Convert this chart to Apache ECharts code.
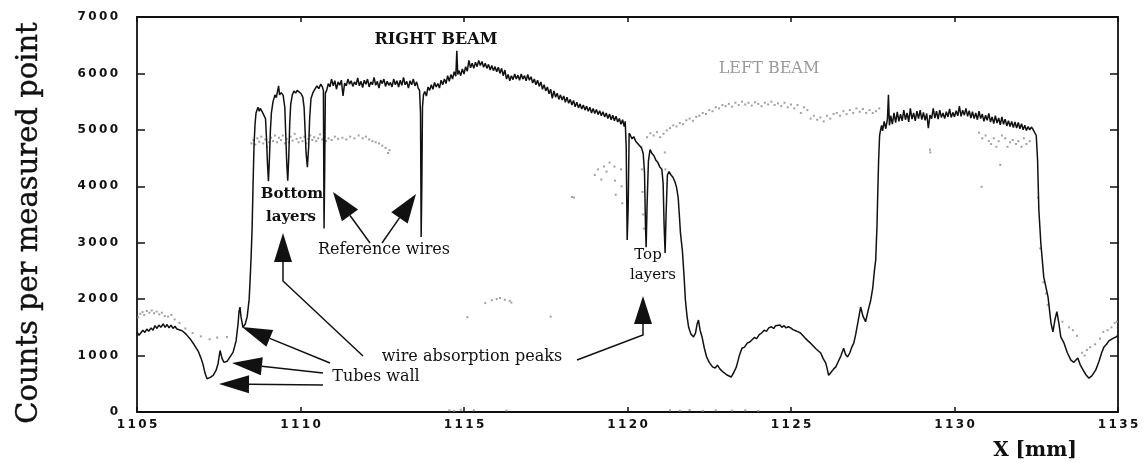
<!DOCTYPE html>
<html>
<head>
<meta charset="utf-8">
<script src="https://cdn.jsdelivr.net/npm/echarts@6/dist/echarts.min.js"></script>
<style>html,body{margin:0;padding:0;background:#fff}#c{width:1144px;height:463px}</style>
</head>
<body>
<div id="c"></div>
<script>
// ---- data (x in mm, counts per measured point) ----
const xTicks = [1105, 1110, 1115, 1120, 1125, 1130, 1135];
const yTicks = [0, 1000, 2000, 3000, 4000, 5000, 6000, 7000];

const rightBeam = [
[1105.00,1420],[1105.06,1360],[1105.12,1390],[1105.18,1450],[1105.24,1410],[1105.30,1470],[1105.36,1430],[1105.43,1490],[1105.49,1450],[1105.55,1530],[1105.61,1480],[1105.67,1540],[1105.73,1500],[1105.80,1560],[1105.86,1500],[1105.92,1550],[1105.98,1490],[1106.04,1540],[1106.10,1480],[1106.16,1520],[1106.22,1470],[1106.28,1490],[1106.38,1440],[1106.50,1380],[1106.62,1300],[1106.74,1200],[1106.87,1080],[1106.96,950],[1107.02,840],[1107.08,690],[1107.14,590],[1107.23,610],[1107.33,650],[1107.42,740],[1107.48,860],[1107.54,1090],[1107.60,950],[1107.66,880],[1107.76,900],[1107.85,980],[1107.94,1060],[1108.03,1260],[1108.09,1560],[1108.12,1780],[1108.15,1860],[1108.18,1690],[1108.24,1500],[1108.31,1560],[1108.37,1690],[1108.43,2000],[1108.46,2350],[1108.49,2750],[1108.52,3250],[1108.55,4050],[1108.58,4750],[1108.61,5100],[1108.64,5300],[1108.70,5400],[1108.74,5330],[1108.77,5380],[1108.83,5320],[1108.89,5350],[1108.93,5200],[1108.96,4850],[1108.99,4400],[1109.02,4090],[1109.05,4500],[1109.08,5000],[1109.11,5300],[1109.16,5500],[1109.22,5620],[1109.26,5570],[1109.30,5600],[1109.33,5780],[1109.36,5620],[1109.41,5660],[1109.47,5610],[1109.52,5400],[1109.55,4900],[1109.58,4400],[1109.61,4100],[1109.64,4500],[1109.67,5100],[1109.70,5450],[1109.75,5620],[1109.80,5690],[1109.85,5650],[1109.90,5700],[1109.96,5680],[1110.02,5640],[1110.07,5580],[1110.11,5400],[1110.14,5000],[1110.17,4600],[1110.21,4340],[1110.25,4700],[1110.28,5200],[1110.32,5550],[1110.38,5660],[1110.44,5690],[1110.50,5780],[1110.56,5730],[1110.62,5810],[1110.67,5760],[1110.70,5700],[1110.72,3250],[1110.74,4300],[1110.76,5650],
[1110.80,5700],[1110.85,5820],[1110.90,5760],[1110.95,5900],[1111.00,5780],[1111.05,5870],[1111.10,5720],[1111.15,5850],[1111.20,5790],[1111.25,5880],[1111.30,5600],[1111.35,5830],[1111.40,5780],[1111.45,5900],[1111.50,5810],[1111.55,5870],[1111.60,5770],[1111.65,5850],[1111.70,5800],[1111.75,5920],[1111.80,5780],[1111.85,5860],[1111.90,5750],[1111.95,5880],[1112.00,5810],[1112.05,5900],[1112.10,5760],[1112.15,5850],[1112.20,5800],[1112.25,5930],[1112.30,5790],[1112.35,5860],[1112.40,5740],[1112.45,5880],[1112.50,5820],[1112.55,5900],[1112.60,5770],[1112.65,5860],[1112.70,5790],[1112.75,5840],[1112.80,5760],[1112.85,5900],[1112.90,5800],[1112.95,5870],[1113.00,5760],[1113.05,5880],[1113.10,5790],[1113.15,5930],[1113.20,5800],[1113.25,5860],[1113.30,5740],[1113.35,5870],[1113.40,5800],[1113.45,5900],[1113.50,5780],[1113.55,5850],[1113.60,5740],
[1113.64,5700],[1113.67,5300],[1113.69,3100],[1113.71,4000],[1113.73,5400],[1113.76,5620],
[1113.80,5680],[1113.85,5600],[1113.90,5760],[1113.95,5700],[1114.00,5800],[1114.05,5720],[1114.10,5840],[1114.15,5760],[1114.20,5820],[1114.25,5740],[1114.30,5880],[1114.35,5800],[1114.40,5900],[1114.45,5820],[1114.50,5960],[1114.55,5860],[1114.60,5980],[1114.65,5900],[1114.70,6030],[1114.75,5950],[1114.78,6400],[1114.81,5980],[1114.85,6050],[1114.90,5960],[1114.95,6080],[1115.00,5990],[1115.05,6120],[1115.10,6040],[1115.15,6230],[1115.20,6100],[1115.25,6180],[1115.30,6090],[1115.35,6200],[1115.40,6120],[1115.45,6230],[1115.50,6140],[1115.55,6210],[1115.60,6110],[1115.65,6180],[1115.70,6090],[1115.75,6160],[1115.80,6060],[1115.85,6140],[1115.90,6050],[1115.95,6120],[1116.00,6030],[1116.05,6110],[1116.10,6000],[1116.15,6090],[1116.20,5960],[1116.25,6060],[1116.30,5900],[1116.35,5980],[1116.40,5870],[1116.45,5960],[1116.50,5890],[1116.55,5990],[1116.60,5900],[1116.65,5970],[1116.70,5880],[1116.75,5990],[1116.80,5900],[1116.85,5960],[1116.90,5870],[1116.95,5980],[1117.00,5880],[1117.05,5940],[1117.10,5830],[1117.15,5900],[1117.20,5800],[1117.25,5880],[1117.30,5770],[1117.35,5850],[1117.40,5720],[1117.45,5800],[1117.50,5690],[1117.55,5760],[1117.60,5640],[1117.65,5720],[1117.70,5560],[1117.75,5690],[1117.80,5580],[1117.85,5650],[1117.90,5540],[1117.95,5620],[1118.00,5530],[1118.05,5600],[1118.10,5490],[1118.15,5580],[1118.20,5470],[1118.25,5540],[1118.30,5440],[1118.35,5520],[1118.40,5410],[1118.45,5490],[1118.50,5390],[1118.55,5460],[1118.60,5370],[1118.65,5440],[1118.70,5350],[1118.75,5420],[1118.80,5330],[1118.85,5400],[1118.90,5300],[1118.95,5380],[1119.00,5290],[1119.05,5360],[1119.10,5270],[1119.15,5340],[1119.20,5250],[1119.25,5320],[1119.30,5230],[1119.35,5300],[1119.40,5200],[1119.45,5280],[1119.50,5180],[1119.55,5260],[1119.60,5160],[1119.65,5240],[1119.70,5140],[1119.75,5200],[1119.80,5100],[1119.85,5180],[1119.90,5060],[1119.93,5150],[1119.96,4700],[1119.99,3050],[1120.02,3600],[1120.05,4940],
[1120.09,4900],[1120.14,4840],[1120.19,4880],[1120.25,4800],[1120.31,4780],[1120.37,4720],[1120.43,4680],[1120.48,4580],[1120.52,4250],[1120.55,3300],[1120.57,2920],[1120.60,3700],[1120.64,4450],[1120.69,4650],[1120.75,4580],[1120.81,4540],[1120.87,4460],[1120.93,4420],[1120.99,4340],[1121.05,4300],[1121.09,4050],[1121.12,3300],[1121.15,2820],[1121.18,3500],[1121.22,4200],[1121.27,4260],[1121.33,4200],[1121.39,4160],[1121.45,4080],[1121.50,3980],[1121.55,3800],[1121.59,3450],[1121.62,3170],[1121.68,2850],[1121.73,2400],[1121.77,1990],[1121.82,1700],[1121.87,1500],[1121.94,1380],[1122.02,1330],[1122.08,1400],[1122.13,1560],[1122.17,1630],[1122.22,1450],[1122.28,1330],[1122.35,1130],[1122.42,975],[1122.50,880],[1122.60,800],[1122.68,780],[1122.75,830],[1122.83,760],[1122.92,710],[1123.03,660],[1123.17,620],[1123.25,700],[1123.33,800],[1123.42,1000],[1123.50,1130],[1123.58,1150],[1123.66,1220],[1123.74,1240],[1123.80,1275],[1123.88,1320],[1123.95,1300],[1124.03,1370],[1124.10,1400],[1124.18,1450],[1124.25,1430],[1124.32,1490],[1124.40,1510],[1124.47,1480],[1124.53,1530],[1124.59,1510],[1124.66,1540],[1124.72,1500],[1124.79,1530],[1124.85,1490],[1124.92,1510],[1124.99,1490],[1125.06,1460],[1125.14,1440],[1125.22,1420],[1125.29,1400],[1125.37,1350],[1125.45,1300],[1125.52,1260],[1125.60,1220],[1125.68,1170],[1125.76,1120],[1125.84,1080],[1125.91,1045],[1125.98,950],[1126.06,870],[1126.11,760],[1126.15,650],[1126.22,700],[1126.30,760],[1126.37,800],[1126.45,900],[1126.53,1000],[1126.61,1130],[1126.67,1020],[1126.73,975],[1126.80,1050],[1126.86,1150],[1126.92,1220],[1126.98,1380],[1127.05,1600],[1127.13,1860],[1127.20,1700],[1127.28,1600],[1127.36,1800],[1127.44,1985],[1127.50,2200],[1127.55,2500],[1127.59,2690],[1127.63,3300],[1127.65,3800],[1127.68,4470],[1127.71,4900],[1127.74,5000],
[1127.77,5080],[1127.80,4980],[1127.85,5150],[1127.90,5020],[1127.95,5200],[1127.98,5620],[1128.01,5080],[1128.05,5250],[1128.10,5100],[1128.15,5300],[1128.20,5130],[1128.25,5320],[1128.30,5150],[1128.35,5280],[1128.40,5160],[1128.45,5350],[1128.50,5180],[1128.55,5300],[1128.60,5140],[1128.65,5380],[1128.70,5190],[1128.75,5300],[1128.80,5160],[1128.85,5330],[1128.90,5200],[1128.95,5350],[1129.00,5180],[1129.05,5310],[1129.10,5170],[1129.15,5290],[1129.20,5030],[1129.25,5260],[1129.30,5200],[1129.35,5380],[1129.40,5210],[1129.45,5330],[1129.50,5190],[1129.55,5350],[1129.60,5220],[1129.65,5300],[1129.70,5200],[1129.75,5320],[1129.80,5230],[1129.85,5370],[1129.90,5220],[1129.95,5310],[1130.00,5230],[1130.05,5340],[1130.10,5250],[1130.15,5420],[1130.20,5240],[1130.25,5350],[1130.30,5260],[1130.35,5380],[1130.40,5240],[1130.45,5340],[1130.50,5210],[1130.55,5320],[1130.60,5200],[1130.65,5300],[1130.70,5180],[1130.75,5330],[1130.80,5200],[1130.85,5280],[1130.90,5150],[1130.95,5260],[1131.00,5170],[1131.05,5290],[1131.10,5140],[1131.15,5230],[1131.20,5110],[1131.25,5250],[1131.30,5120],[1131.35,5210],[1131.40,5090],[1131.45,5230],[1131.50,5100],[1131.55,5190],[1131.60,5070],[1131.65,5160],[1131.70,5060],[1131.75,5150],[1131.80,5040],[1131.85,5140],[1131.90,5030],[1131.95,5130],[1132.00,5020],[1132.05,5110],[1132.10,5000],[1132.15,5080],[1132.20,4990],[1132.25,5060],[1132.30,5000],[1132.35,5050],[1132.40,5010],[1132.45,4980],
[1132.50,4900],[1132.54,4470],[1132.58,3580],[1132.64,2990],[1132.73,2390],[1132.86,2040],[1132.95,1580],[1133.01,1420],[1133.07,1630],[1133.13,1780],[1133.19,1580],[1133.25,1330],[1133.35,1220],[1133.45,1050],[1133.56,920],[1133.65,880],[1133.71,870],[1133.77,955],[1133.85,830],[1133.93,745],[1134.02,660],[1134.11,600],[1134.20,640],[1134.32,745],[1134.42,900],[1134.50,1050],[1134.57,1150],[1134.65,1200],[1134.72,1260],[1134.78,1275],[1134.86,1310],[1134.94,1330],[1135.00,1360]
];

const leftBeam = [
[1105.03,1680],[1105.10,1740],[1105.17,1770],[1105.22,1720],[1105.30,1790],[1105.38,1760],[1105.45,1800],[1105.52,1750],[1105.60,1780],[1105.68,1730],[1105.76,1760],[1105.85,1700],[1105.95,1690],[1106.05,1720],[1106.15,1640],[1106.30,1580],[1106.48,1480],[1106.70,1400],[1106.95,1340],[1107.22,1290],[1107.45,1320],[1107.75,1330],
[1108.50,4760],[1108.56,4820],[1108.62,4740],[1108.68,4850],[1108.74,4790],[1108.80,4880],[1108.86,4760],[1108.92,4830],[1108.98,4700],[1109.04,4780],[1109.10,4860],[1109.16,4800],[1109.22,4900],[1109.28,4780],[1109.34,4860],[1109.40,4820],[1109.46,4900],[1109.52,4760],[1109.58,4840],[1109.64,4780],[1109.70,4880],[1109.76,4810],[1109.82,4930],[1109.88,4840],[1109.94,4780],[1110.00,4860],[1110.06,4800],[1110.12,4880],[1110.18,4760],[1110.24,4840],[1110.30,4900],[1110.36,4820],[1110.42,4870],[1110.48,4800],[1110.54,4850],[1110.60,4920],[1110.66,4830],[1110.72,4870],[1110.78,4800],[1110.86,4850],[1110.95,4820],[1111.05,4880],[1111.15,4840],[1111.28,4860],[1111.40,4830],[1111.52,4880],[1111.65,4850],[1111.78,4900],[1111.90,4850],[1112.00,4880],[1112.10,4830],[1112.20,4800],[1112.30,4780],[1112.40,4760],[1112.50,4720],[1112.60,4680],[1112.68,4590],[1112.72,4640],
[1114.55,30],[1114.70,20],[1114.90,40],[1115.10,1680],[1115.30,30],[1115.65,1930],[1115.85,1980],[1116.00,2000],[1116.10,2020],[1116.25,1990],[1116.30,25],[1116.40,1970],[1116.45,1940],[1117.65,1690],[1118.30,3810],[1118.36,3800],[1119.00,4200],[1119.10,4300],[1119.20,4120],[1119.28,4350],[1119.36,4260],[1119.45,4420],[1119.60,4350],[1119.62,4100],[1119.64,3850],[1119.80,4300],[1119.82,4000],[1119.84,3700],
[1120.42,4700],[1120.44,4300],[1120.46,3900],[1120.48,3500],[1120.50,3250],[1120.60,4870],[1120.70,4940],[1120.80,4900],[1120.90,4960],[1121.00,4870],[1121.10,4930],[1121.14,4600],[1121.16,4300],[1121.20,4990],[1121.30,5030],[1121.40,5080],[1121.50,5060],[1121.60,5120],[1121.70,5100],[1121.80,5170],[1121.90,5200],[1122.00,5160],[1122.10,5230],[1122.20,5250],[1122.30,5300],[1122.40,5280],[1122.50,5350],[1122.60,5330],[1122.70,5400],[1122.80,5380],[1122.90,5440],[1123.00,5420],[1123.10,5460],[1123.20,5410],[1123.30,5480],[1123.40,5440],[1123.50,5500],[1123.60,5450],[1123.70,5480],[1123.80,5430],[1123.90,5490],[1124.00,5460],[1124.10,5420],[1124.20,5480],[1124.30,5450],[1124.40,5500],[1124.50,5440],[1124.60,5470],[1124.70,5420],[1124.80,5480],[1124.90,5400],[1125.00,5450],[1125.10,5380],[1125.20,5440],[1125.30,5300],[1125.40,5400],[1125.50,5350],[1125.60,5200],[1125.70,5250],[1125.80,5180],[1125.90,5220],[1126.00,5150],[1126.10,5250],[1126.20,5200],[1126.30,5280],[1126.40,5300],[1126.50,5250],[1126.60,5330],[1126.70,5280],[1126.80,5350],[1126.90,5300],[1127.00,5380],[1127.10,5320],[1127.20,5370],[1127.30,5300],[1127.40,5350],[1127.50,5300],[1127.60,5330],[1127.70,5380],
[1121.30,30],[1121.60,25],[1121.90,35],[1122.30,20],[1122.70,30],[1123.20,25],[1123.60,30],[1124.00,20],
[1129.25,4650],[1129.26,4600],[1130.75,4950],[1130.83,3990],[1130.85,4850],[1130.95,4900],[1131.05,4800],[1131.12,4750],[1131.20,4850],[1131.28,4700],[1131.35,4800],[1131.40,4380],[1131.45,4900],[1131.55,4850],[1131.62,4700],[1131.70,4780],[1131.78,4820],[1131.88,4750],[1131.95,4800],[1132.05,4700],[1132.12,4850],[1132.20,4750],[1132.30,4800],
[1132.55,3800],[1132.62,2900],[1132.72,2300],[1132.80,2100],[1132.85,1900],[1133.30,1600],[1133.50,1500],[1133.62,1450],[1133.75,1350],[1133.90,1050],[1133.98,1000],[1134.05,1100],[1134.15,1150],[1134.30,1200],[1134.45,1300],[1134.55,1420],[1134.68,1450],[1134.80,1500],[1134.90,1580],[1134.97,1600]
];

// ---- chart ----
const chart = echarts.init(document.getElementById('c'), null, {renderer: 'canvas'});
const spaced = v => String(v).split('').join('\u2009');
const labelFont = {fontFamily: 'DejaVu Sans', fontWeight: 'bold', fontSize: 12, color: '#111'};
const axisLineStyle = {color: '#111', width: 1.8};

// arrows in pixel space: shaft points then tip
function arrow(points, headLen, halfW) {
  const n = points.length;
  const tip = points[n - 1], prev = points[n - 2];
  const dx = tip[0] - prev[0], dy = tip[1] - prev[1];
  const L = Math.hypot(dx, dy), ux = dx / L, uy = dy / L;
  const bx = tip[0] - ux * headLen, by = tip[1] - uy * headLen;
  const shaft = points.slice(0, n - 1).concat([[bx, by]]);
  return [
    {type: 'polyline', shape: {points: shaft}, style: {stroke: '#111', lineWidth: 1.5, fill: null}, silent: true},
    {type: 'polygon', shape: {points: [tip, [bx - uy * halfW, by + ux * halfW], [bx + uy * halfW, by - ux * halfW]]}, style: {fill: '#111'}, silent: true}
  ];
}
const arrows = [].concat(
  arrow([[363, 356], [283, 281], [283, 233]], 29, 9),
  arrow([[577, 360], [643, 335], [643, 296]], 28, 9),
  arrow([[330, 363], [242, 327]], 30, 9),
  arrow([[323, 373], [232, 363]], 30, 9),
  arrow([[323, 385], [219, 384]], 30, 9),
  arrow([[370, 243], [333, 192]], 29, 10),
  arrow([[382, 243], [416, 194]], 29, 10)
);
const texts = [
  {type: 'text', x: 29, y: 223, rotation: Math.PI / 2, style: {text: 'Counts per measured point', font: 'normal 29px "DejaVu Serif"', fill: '#111', stroke: '#111', lineWidth: 0.4, textAlign: 'center', textVerticalAlign: 'middle'}},
  {type: 'text', x: 1035, y: 451, style: {text: 'X [mm]', font: 'bold 20px "DejaVu Serif"', fill: '#111', textAlign: 'center', textVerticalAlign: 'middle'}},
  {type: 'text', x: 436, y: 40, style: {text: 'RIGHT BEAM', font: 'bold 16px "DejaVu Serif"', fill: '#111', textAlign: 'center', textVerticalAlign: 'middle'}},
  {type: 'text', x: 769, y: 69, style: {text: 'LEFT BEAM', font: 'normal 16px "DejaVu Serif"', fill: '#9a9a9a', textAlign: 'center', textVerticalAlign: 'middle'}},
  {type: 'text', x: 292, y: 194, style: {text: 'Bottom', font: 'bold 15px "DejaVu Serif"', fill: '#111', textAlign: 'center', textVerticalAlign: 'middle'}},
  {type: 'text', x: 291, y: 217, style: {text: 'layers', font: 'bold 15px "DejaVu Serif"', fill: '#111', textAlign: 'center', textVerticalAlign: 'middle'}},
  {type: 'text', x: 384, y: 250, style: {text: 'Reference wires', font: 'normal 16px "DejaVu Serif"', fill: '#111', textAlign: 'center', textVerticalAlign: 'middle'}},
  {type: 'text', x: 648, y: 255, style: {text: 'Top', font: 'normal 15px "DejaVu Serif"', fill: '#111', textAlign: 'center', textVerticalAlign: 'middle'}},
  {type: 'text', x: 653, y: 275, style: {text: 'layers', font: 'normal 15px "DejaVu Serif"', fill: '#111', textAlign: 'center', textVerticalAlign: 'middle'}},
  {type: 'text', x: 472, y: 357, style: {text: 'wire absorption peaks', font: 'normal 16px "DejaVu Serif"', fill: '#111', textAlign: 'center', textVerticalAlign: 'middle'}},
  {type: 'text', x: 376, y: 377, style: {text: 'Tubes wall', font: 'normal 16px "DejaVu Serif"', fill: '#111', textAlign: 'center', textVerticalAlign: 'middle'}}
];

chart.setOption({
  animation: false,
  backgroundColor: '#fff',
  grid: {left: 137, right: 26, top: 17, bottom: 51, containLabel: false},
  xAxis: [
    {type: 'value', position: 'bottom', min: xTicks[0], max: xTicks[xTicks.length - 1], interval: 5,
     axisLine: {show: true, lineStyle: axisLineStyle, onZero: false},
     axisTick: {show: true, inside: true, length: 5, lineStyle: {color: '#111', width: 1.5}},
     axisLabel: Object.assign({margin: 7, formatter: v => spaced(v)}, labelFont),
     splitLine: {show: false}},
    {type: 'value', position: 'top', min: xTicks[0], max: xTicks[xTicks.length - 1], interval: 5,
     axisLine: {show: true, lineStyle: axisLineStyle, onZero: false},
     axisTick: {show: true, inside: true, length: 5, lineStyle: {color: '#111', width: 1.5}},
     axisLabel: {show: false}, splitLine: {show: false}}
  ],
  yAxis: [
    {type: 'value', position: 'left', min: yTicks[0], max: yTicks[yTicks.length - 1], interval: 1000,
     axisLine: {show: true, lineStyle: axisLineStyle, onZero: false},
     axisTick: {show: true, inside: true, length: 8, lineStyle: {color: '#111', width: 1.5}},
     axisLabel: Object.assign({margin: 19, formatter: v => spaced(v)}, labelFont),
     splitLine: {show: false}},
    {type: 'value', position: 'right', min: yTicks[0], max: yTicks[yTicks.length - 1], interval: 1000,
     axisLine: {show: true, lineStyle: axisLineStyle, onZero: false},
     axisTick: {show: true, inside: true, length: 8, lineStyle: {color: '#111', width: 1.5}},
     axisLabel: {show: false}, splitLine: {show: false}}
  ],
  series: [
    {name: 'LEFT BEAM', type: 'scatter', data: leftBeam, symbol: 'rect', symbolSize: 2,
     itemStyle: {color: '#8a8a8a'}, silent: true, z: 1},
    {name: 'RIGHT BEAM', type: 'line', data: rightBeam, showSymbol: false, smooth: false,
     lineStyle: {color: '#111', width: 1.5}, silent: true, z: 2}
  ],
  graphic: texts.concat(arrows)
});
</script>
</body>
</html>
